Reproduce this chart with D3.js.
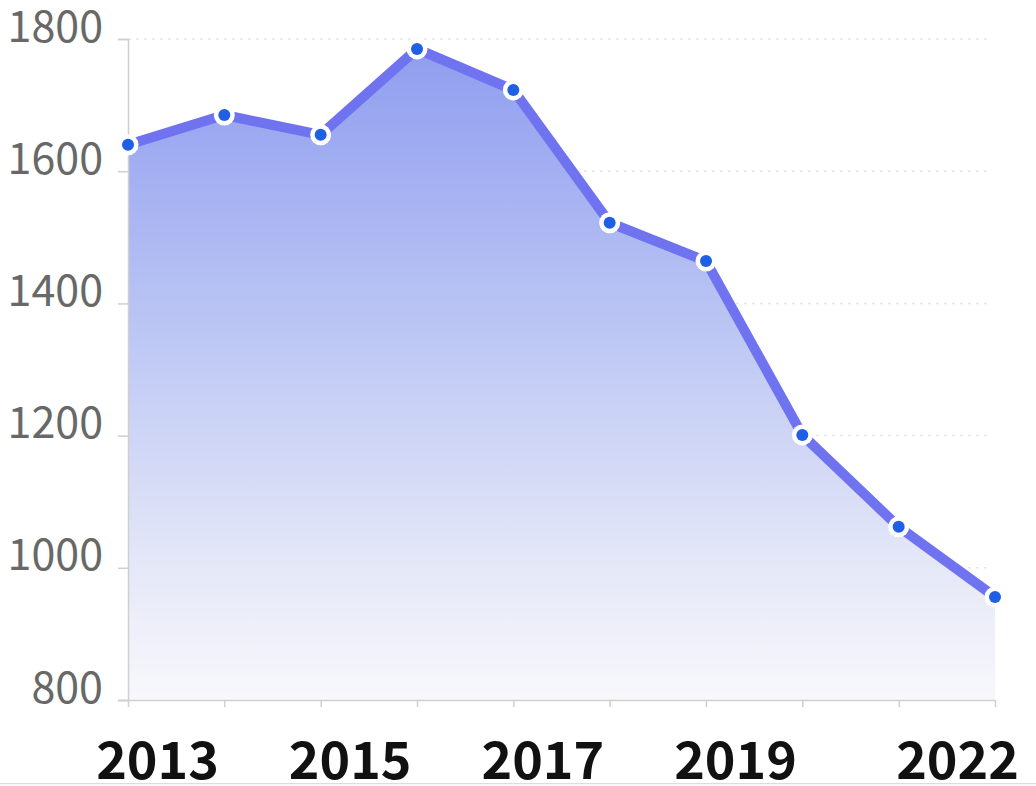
<!DOCTYPE html>
<html>
<head>
<meta charset="utf-8">
<script src="https://cdn.jsdelivr.net/npm/d3@7"></script>
<style>
  html, body { margin: 0; padding: 0; background: #fff; }
  svg { display: block; }
</style>
</head>
<body>
<svg id="chart" width="1036" height="786"></svg>
<script>
const years = [2013, 2014, 2015, 2016, 2017, 2018, 2019, 2020, 2021, 2022];
const values = [1640, 1685, 1655, 1785, 1723, 1522, 1464, 1201, 1062, 956];
const xLabels = ["2013", "2015", "2017", "2019", "2022"];
const yTicks = [800, 1000, 1200, 1400, 1600, 1800];

const svg = d3.select("#chart");
const W = 1036, H = 786;

// page bottom border
svg.append("rect").attr("x", 0).attr("y", 783).attr("width", W).attr("height", 3).attr("fill", "#f7f7f7");
svg.append("line").attr("x1", 0).attr("x2", W).attr("y1", 783.5).attr("y2", 783.5)
  .attr("stroke", "#dcdcdc").attr("stroke-width", 1);

const x = d3.scalePoint().domain(years).range([128, 995]);
const y = d3.scaleLinear().domain([800, 1800]).range([700, 39]);

const defs = svg.append("defs");
const grad = defs.append("linearGradient").attr("id", "areaGrad")
  .attr("gradientUnits", "userSpaceOnUse")
  .attr("x1", 0).attr("x2", 0).attr("y1", y(1800)).attr("y2", y(800));
grad.append("stop").attr("offset", "0").attr("stop-color", "#8e9cef");
grad.append("stop").attr("offset", "0.45").attr("stop-color", "#bdc7f4");
grad.append("stop").attr("offset", "0.8").attr("stop-color", "#e5e8f7");
grad.append("stop").attr("offset", "1").attr("stop-color", "#f8f8fb");

// grid lines
svg.append("g").selectAll("line").data(yTicks.slice(1)).join("line")
  .attr("x1", x(years[0])).attr("x2", 990)
  .attr("y1", d => y(d)).attr("y2", d => y(d))
  .attr("stroke", "#e6e6e6").attr("stroke-width", 1.5)
  .attr("stroke-dasharray", "3,5");

// area
const area = d3.area().x((d, i) => x(years[i])).y0(y(800)).y1(d => y(d));
svg.append("path").datum(values).attr("d", area).attr("fill", "url(#areaGrad)");

// y axis
const yAxis = svg.append("g").attr("transform", `translate(${x(years[0])},0)`)
  .call(d3.axisLeft(y).tickValues(yTicks).tickSize(10).tickFormat(d3.format("d")));
yAxis.select(".domain").attr("stroke", "#cfcfcf").attr("stroke-width", 1.5);
yAxis.selectAll(".tick line").attr("stroke", "#cfcfcf").attr("stroke-width", 1.5);
yAxis.selectAll(".tick text")
  .attr("x", -25).attr("y", -13).attr("dy", "0.35em")
  .attr("fill", "#686868")
  .style("font-family", "'Noto Sans CJK SC', 'Noto Sans', sans-serif")
  .style("font-size", "43px").style("font-weight", "400");

// x axis
const xAxis = svg.append("g").attr("transform", `translate(0,${y(800)})`)
  .call(d3.axisBottom(x).tickSize(7).tickSizeOuter(0)
    .tickFormat(d => xLabels.includes(String(d)) ? String(d) : ""));
xAxis.select(".domain").attr("stroke", "#cfcfcf").attr("stroke-width", 1.5)
  .attr("d", `M${x(years[0]) - 10},0.5H${x(years[years.length - 1])}`);
xAxis.selectAll(".tick line").attr("stroke", "#cfcfcf").attr("stroke-width", 1.5);
xAxis.selectAll(".tick text")
  .attr("y", 79).attr("dy", 0)
  .attr("x", d => d === years[years.length - 1] ? -38 : 29)
  .attr("fill", "#111")
  .style("font-family", "'Noto Sans CJK SC', 'Noto Sans', sans-serif")
  .style("font-size", "52px").style("font-weight", "700");

// line
const line = d3.line().x((d, i) => x(years[i])).y(d => y(d));
svg.append("path").datum(values).attr("d", line)
  .attr("fill", "none").attr("stroke", "#7073f0").attr("stroke-width", 10)
  .attr("stroke-linejoin", "round");

// points
const pts = svg.append("g").selectAll("g").data(values).join("g")
  .attr("transform", (d, i) => `translate(${x(years[i])},${y(d)})`);
pts.append("circle").attr("r", 10.5).attr("fill", "#ffffff");
pts.append("circle").attr("r", 6).attr("fill", "#1f5fe3");
</script>
</body>
</html>
